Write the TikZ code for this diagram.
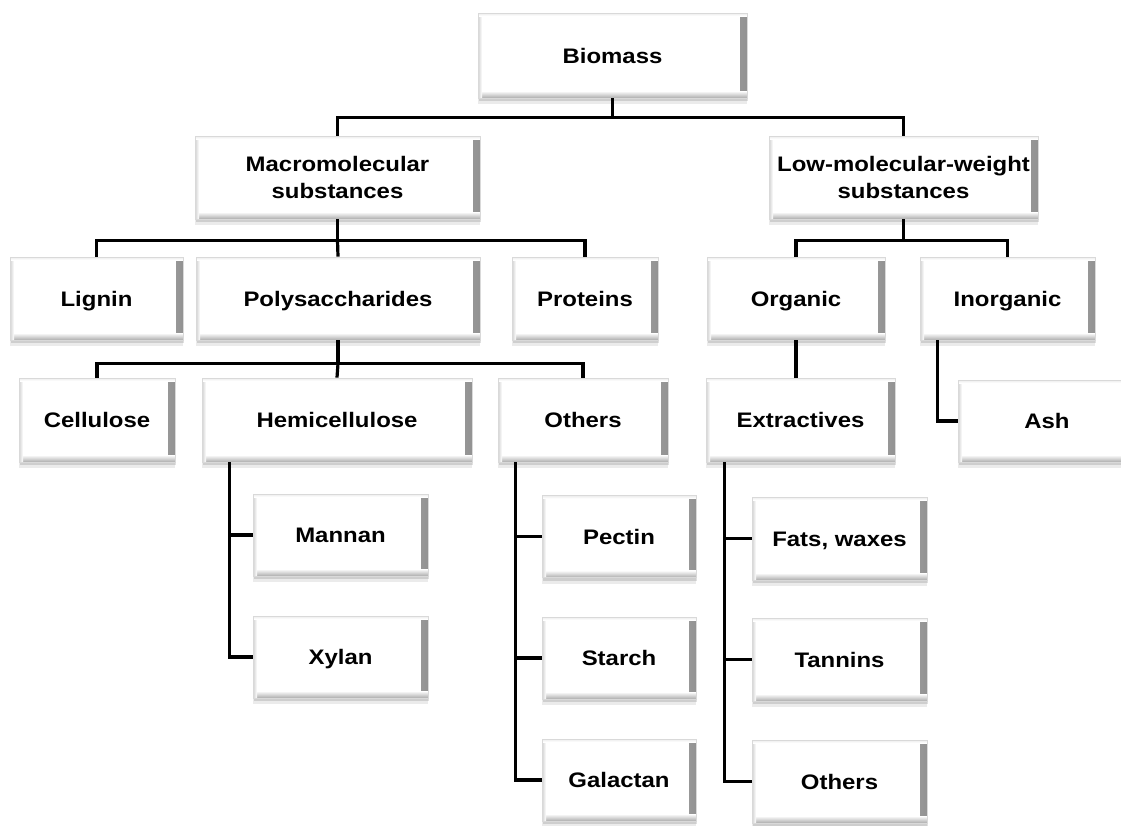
\documentclass[tikz,border=0pt]{standalone}
\usepackage{fontspec}
\setmainfont{Liberation Sans}[FakeStretch=1.14]
\usetikzlibrary{shadows}
\begin{document}
\begin{tikzpicture}[x=1pt,y=-1pt,
  box/.style={draw=gray!30, line width=0.8pt, fill=white, align=center, inner sep=0pt,
    font=\fontsize{21}{27}\selectfont\bfseries, text=black,
    path picture={
      \fill[left color=white, right color=gray!85] ([xshift=-7pt]path picture bounding box.north east) rectangle (path picture bounding box.south east);
      \fill[top color=white, bottom color=gray!65] ([yshift=7pt]path picture bounding box.south west) rectangle (path picture bounding box.south east);
      \fill[left color=gray!35, right color=white] (path picture bounding box.north west) rectangle ([xshift=4pt]path picture bounding box.south west);
      \fill[top color=gray!15, bottom color=white] (path picture bounding box.north west) rectangle ([yshift=-3pt]path picture bounding box.north east);
    },
    general shadow={shadow xshift=0pt, shadow yshift=-6pt, opacity=0.08, fill=black},
    drop shadow={shadow xshift=1pt, shadow yshift=-3pt, opacity=0.12, fill=black}},
  one/.style={box, text height=15pt, text depth=0pt},
  conn/.style={line width=3.2pt, black}]
\useasboundingbox (0,0) rectangle (1121,825);
\clip (0,0) rectangle (1121,825);

% row 1
\node[one, minimum width=269pt, minimum height=85pt] (bio) at (612.5,55.5) {Biomass};
% row 2
\node[box, minimum width=285pt, minimum height=83pt] (macro) at (337.5,177.5) {Macromolecular\\substances};
\node[box, minimum width=269pt, minimum height=83pt] (low) at (903.5,177.5) {Low-molecular-weight\\substances};
% row 3
\node[one, minimum width=173pt, minimum height=83pt] (lignin) at (96.5,298.5) {Lignin};
\node[one, minimum width=284pt, minimum height=83pt] (poly) at (338,298.5) {Polysaccharides};
\node[one, minimum width=146pt, minimum height=83pt] (prot) at (585,298.5) {Proteins};
\node[one, minimum width=178pt, minimum height=83pt] (organic) at (796,298.5) {Organic};
\node[one, minimum width=175pt, minimum height=83pt] (inorg) at (1007.5,298.5) {Inorganic};
% row 4
\node[one, minimum width=156pt, minimum height=84pt] (cell) at (97,420) {Cellulose};
\node[one, minimum width=270pt, minimum height=84pt] (hemi) at (337,420) {Hemicellulose};
\node[one, minimum width=170pt, minimum height=84pt] (others) at (583,420) {Others};
\node[one, minimum width=189pt, minimum height=84pt] (extr) at (800.5,420) {Extractives};
\node[one, minimum width=178pt, minimum height=82pt] (ash) at (1047,421) {Ash};
% sub lists
\node[one, minimum width=175pt, minimum height=82pt] (mannan) at (340.5,535) {Mannan};
\node[one, minimum width=175pt, minimum height=82pt] (xylan) at (340.5,657) {Xylan};
\node[one, minimum width=154pt, minimum height=82pt] (pectin) at (619,536.5) {Pectin};
\node[one, minimum width=154pt, minimum height=82pt] (starch) at (619,658) {Starch};
\node[one, minimum width=154pt, minimum height=82pt] (galactan) at (619,780) {Galactan};
\node[one, minimum width=175pt, minimum height=83pt] (fats) at (839.5,538.5) {Fats, waxes};
\node[one, minimum width=175pt, minimum height=83pt] (tannins) at (839.5,659.5) {Tannins};
\node[one, minimum width=175pt, minimum height=83pt] (oth2) at (839.5,781.5) {Others};

% connectors
\draw[conn] (bio.south) -- ++(0,19) coordinate (j1);
\draw[conn] (macro.north) |- (j1) -| (low.north);

\draw[conn] (macro.south) -- ++(0,21) coordinate (j2);
\draw[conn] (lignin.north) |- (j2) -| (prot.north);
\draw[conn] (j2) -- (poly.north);

\draw[conn] (low.south) -- ++(0,21) coordinate (j3);
\draw[conn] (organic.north) |- (j3) -| (inorg.north);

\draw[conn] (poly.south) -- ++(0,23) coordinate (j4);
\draw[conn] (cell.north) |- (j4) -| (others.north);
\draw[conn] (j4) -- (hemi.north);

\draw[conn] (organic.south) -- (organic.south |- extr.north);
\draw[conn] ([xshift=18pt]inorg.south west) |- (ash.west);

\draw[conn] ([xshift=28pt]hemi.south west) |- (mannan.west);
\draw[conn] ([xshift=28pt]hemi.south west) |- (xylan.west);

\draw[conn] ([xshift=18pt]others.south west) |- (pectin.west);
\draw[conn] ([xshift=18pt]others.south west) |- (starch.west);
\draw[conn] ([xshift=18pt]others.south west) |- (galactan.west);

\draw[conn] ([xshift=19pt]extr.south west) |- (fats.west);
\draw[conn] ([xshift=19pt]extr.south west) |- (tannins.west);
\draw[conn] ([xshift=19pt]extr.south west) |- (oth2.west);
\end{tikzpicture}
\end{document}
